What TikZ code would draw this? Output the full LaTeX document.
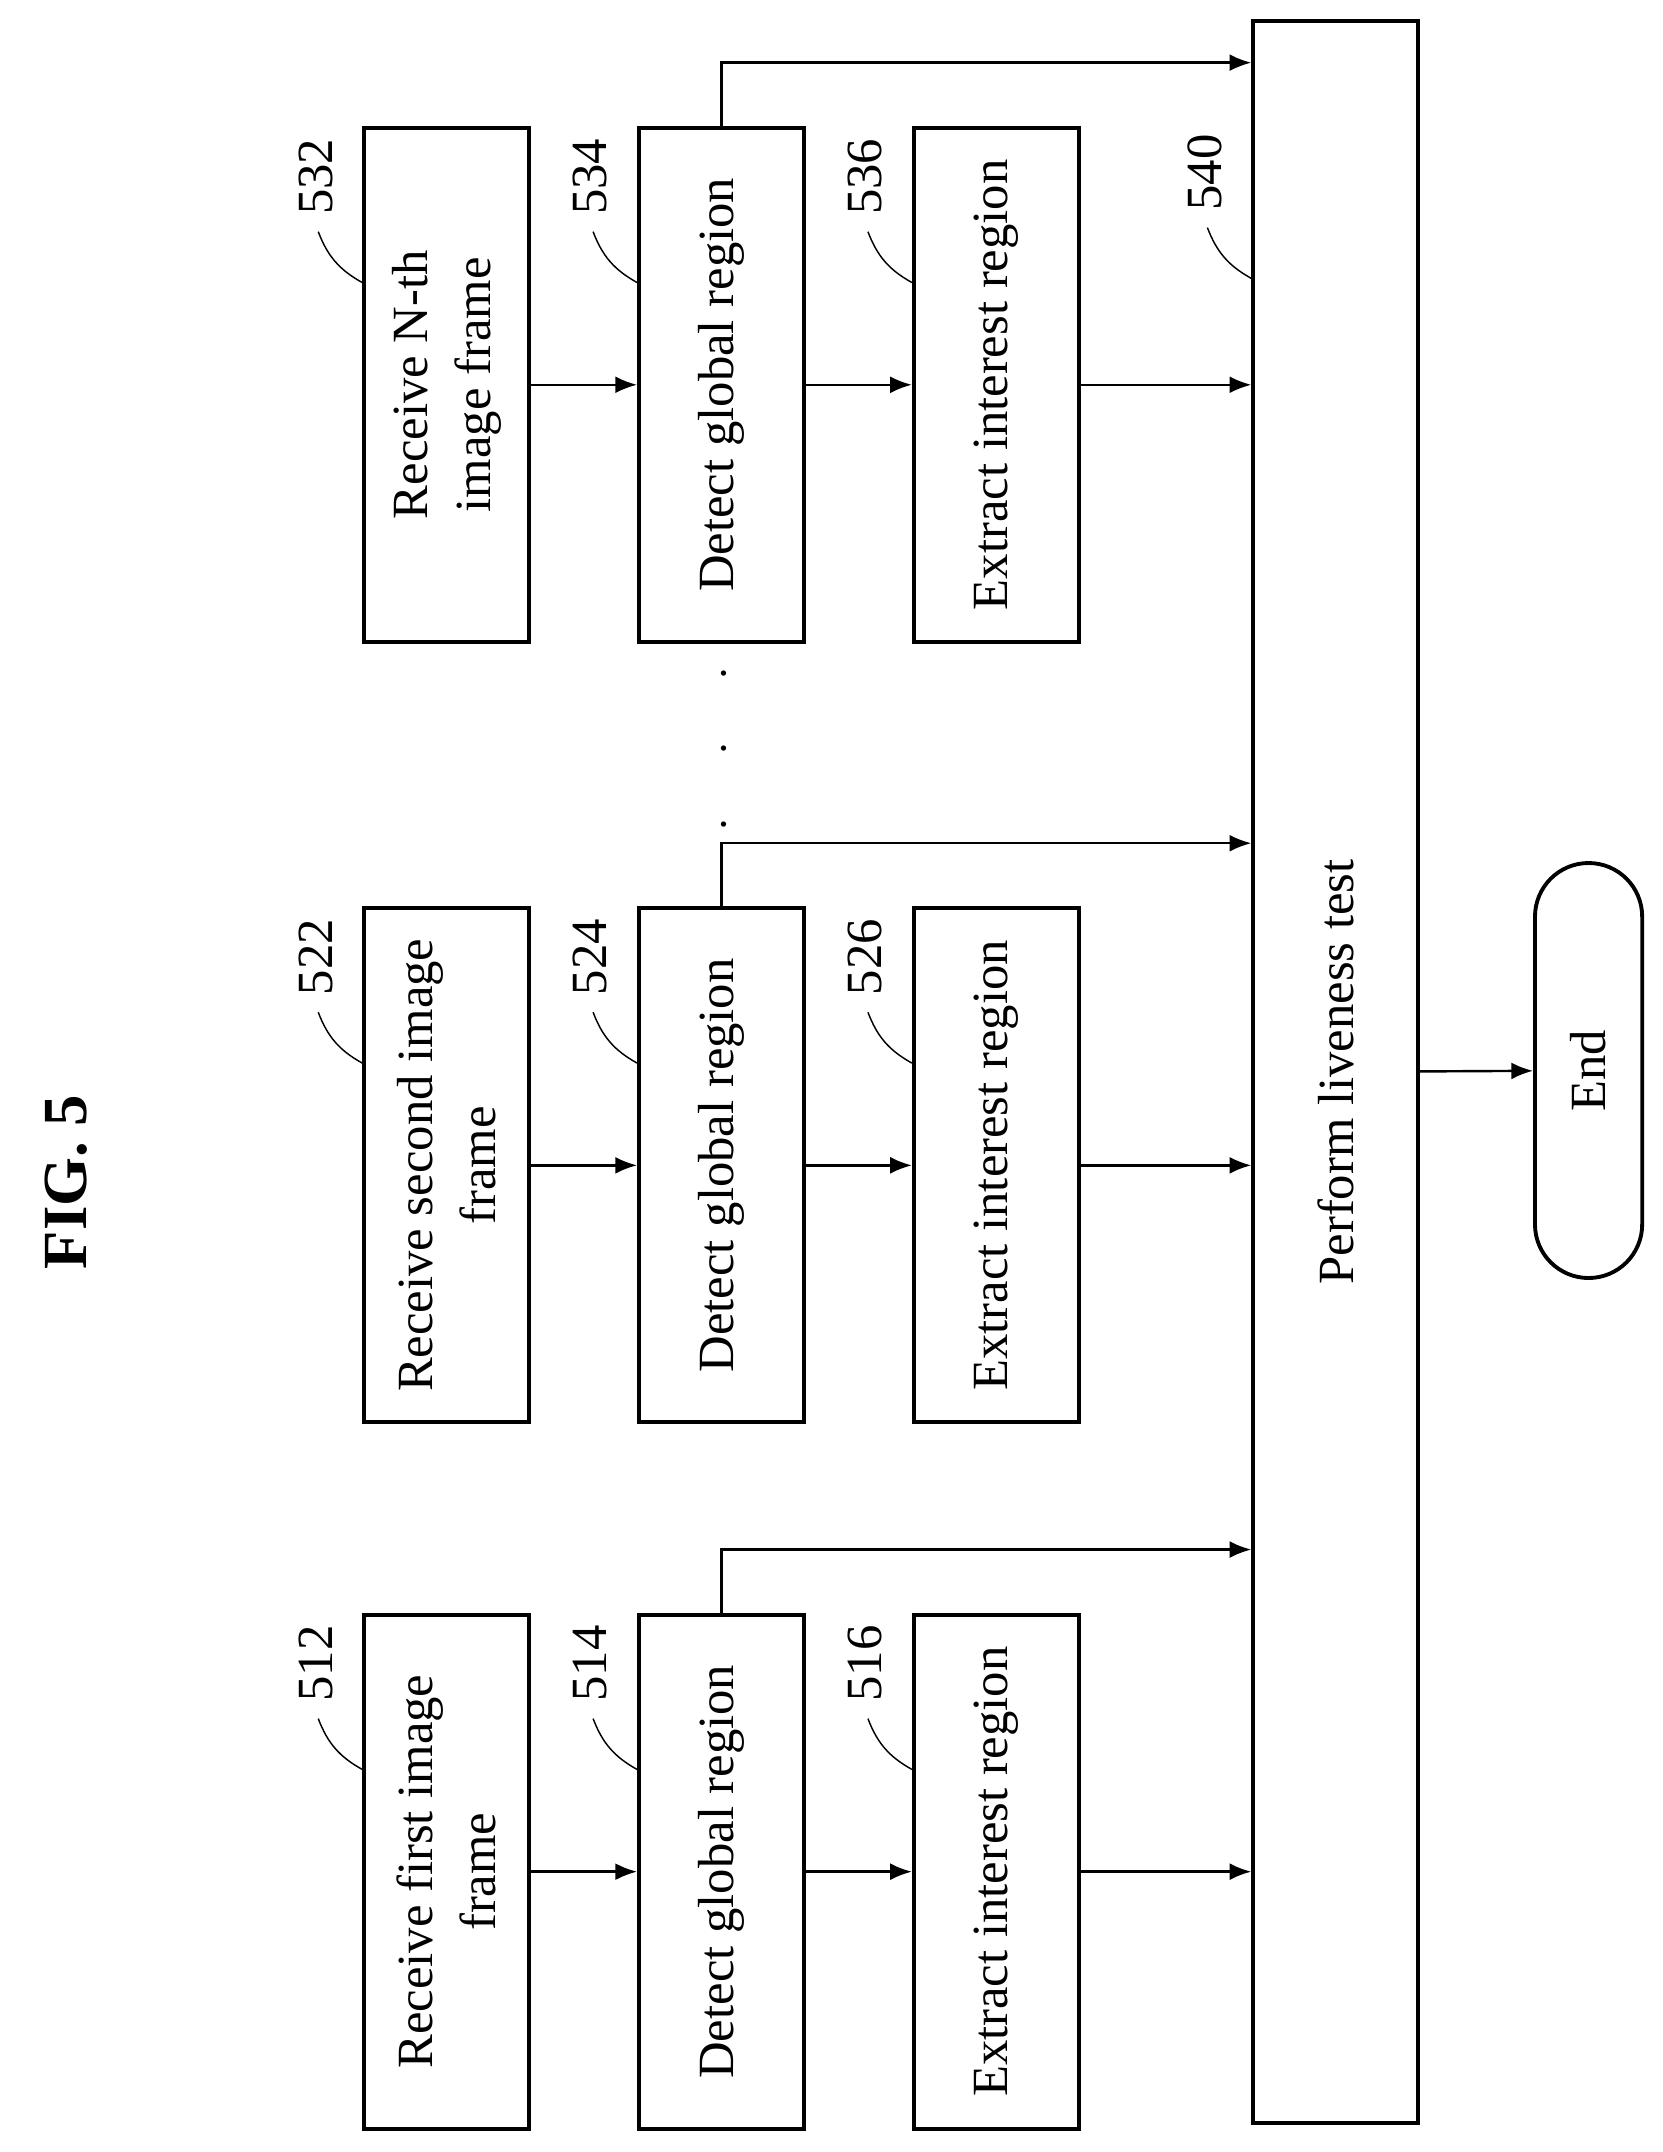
\documentclass[tikz,border=0pt]{standalone}
\usepackage{fontspec}
\setmainfont{Liberation Serif}
\usetikzlibrary{positioning,arrows.meta}
\tikzset{
	stepbox/.style   = {draw, line width=1.6pt, minimum width=120*0.02cm, minimum height=374*0.02cm,
		inner sep=0pt},
	steptext/.style = {rotate=90, align=center, font=\fontsize{21}{26}\selectfont},
	ref/.style    = {rotate=90, font=\fontsize{21}{24}\selectfont},
	lead/.style   = {line width=0.6pt},
	flow/.style   = {-{Latex[length=9pt,width=7pt]}, line width=1pt},
}
\begin{document}
\begin{tikzpicture}[x=0.02cm, y=-0.02cm]
\useasboundingbox (0,0) rectangle (1210,1566);
\node[rotate=90, font=\bfseries\fontsize{26}{30}\selectfont] (fig) at (48,860) {FIG. 5};
% columns of steps
\foreach \col/\yc/\ta in {1/1362/{Receive first image\\frame}, 2/848/{Receive second image\\frame}, 3/280/{Receive N-th\\image frame}}{
	\node[stepbox] (r\col) at (325,\yc) {};
	\node[steptext] at (r\col) {\ta};
	\node[stepbox] (d\col) at (525,\yc) {};
	\node[steptext] at (d\col) {Detect global region};
	\node[stepbox] (e\col) at (725,\yc) {};
	\node[steptext] at (e\col) {Extract interest region};
}
% big box
\node[draw, line width=1.6pt, minimum width=120*0.02cm, minimum height=1530*0.02cm, inner sep=0pt] (live) at (972,780) {};
\node[steptext] at (live) {Perform liveness test};
\node[draw, line width=1.6pt, rounded corners=39*0.02cm, minimum width=78*0.02cm, minimum height=302*0.02cm] (end) at (1156,779) {};
\node[steptext] at (end) {End};
% reference numerals
\foreach \n/\nd in {512/r1, 514/d1, 516/e1, 522/r2, 524/d2, 526/e2, 532/r3, 534/d3, 536/e3}{
	\node[ref] (l\n) at ([shift={(-34,37)}]\nd.north west) {\n};
	\draw[lead] ([shift={(-32,77)}]\nd.north west) to[bend right=20] ([shift={(0,114)}]\nd.north west);
}
\node[ref] (l540) at ([shift={(-34,112)}]live.north west) {540};
\draw[lead] ([shift={(-32,152)}]live.north west) to[bend right=20] ([shift={(0,189)}]live.north west);
% connectors
\foreach \col in {1,2,3}{
	\draw[flow] (r\col) -- (d\col);
	\draw[flow] (d\col) -- (e\col);
	\draw[flow] (e\col.east) -- (e\col.east -| live.west);
	\draw[flow] (d\col.north) -- ++(0,-46) coordinate (t\col) -- (t\col -| live.west);
}
\draw[flow] (live) -- (end);
\node[rotate=90, font=\fontsize{21}{24}\selectfont] (dots) at (528,545) {$\cdot\quad\cdot\quad\cdot$};
\end{tikzpicture}
\end{document}
